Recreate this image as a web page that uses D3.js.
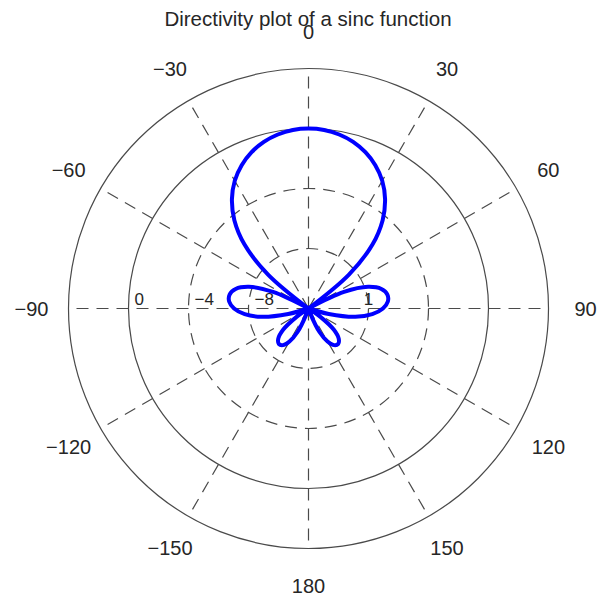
<!DOCTYPE html>
<html>
<head>
<meta charset="utf-8">
<script src="https://cdn.jsdelivr.net/npm/d3@7"></script>
<style>
  html, body { margin: 0; padding: 0; background: #fff; }
  svg { display: block; }
  text { font-family: "Liberation Sans", Arial, Helvetica, sans-serif; fill: #262626; }
</style>
</head>
<body>
<svg id="chart" width="607" height="596"></svg>
<script>
// Sample angles (degrees, 0 = up, clockwise positive)
const angles = [
  -180, -175, -170, -165, -160, -155, -150, -145, -140, -135, -130, -125,
  -120, -115, -110, -105, -100, -95, -90, -85, -80, -75, -70, -65,
  -60, -55, -50, -45, -40, -35, -30, -25, -20, -15, -10, -5,
  0, 5, 10, 15, 20, 25, 30, 35, 40, 45, 50, 55,
  60, 65, 70, 75, 80, 85, 90, 95, 100, 105, 110, 115,
  120, 125, 130, 135, 140, 145, 150, 155, 160, 165, 170, 175
];
// Directivity in dB at each sample angle (floored at the -12 dB centre)
const gainDb = [
  -12, -12, -12, -12, -11.60, -10.27, -9.46, -9.02, -8.92, -9.15, -9.79, -11.03,
  -12, -12, -12, -10.60, -8.83, -7.73, -7.04, -6.69, -6.66, -6.97, -7.77, -9.39,
  -12, -12, -8.48, -5.97, -4.31, -3.10, -2.17, -1.46, -0.91, -0.50, -0.22, -0.05,
  0, -0.05, -0.22, -0.50, -0.91, -1.46, -2.17, -3.10, -4.31, -5.97, -8.48, -12,
  -12, -9.39, -7.77, -6.97, -6.66, -6.69, -7.04, -7.73, -8.83, -10.60, -12, -12,
  -12, -11.03, -9.79, -9.15, -8.92, -9.02, -9.46, -10.27, -11.60, -12, -12, -12
];
// Grid rings and spokes
const ringDb = [-8, -4, 0, 4];
const ringSolid = [false, false, true, true];
const radialLabels = ["0", "\u22124", "\u22128"];
const radialLabelDb = [0, -4, -8];
const spokeAngles = [0, 30, 60, 90, 120, 150, 180, -150, -120, -90, -60, -30];
const spokeLabels = ["0", "30", "60", "90", "120", "150", "180",
                     "\u2212150", "\u2212120", "\u221290", "\u221260", "\u221230"];

const svg = d3.select("#chart");
const cx = 308.5, cy = 308.5;
const r = d3.scaleLinear().domain([-12, 4]).range([0, 240]);
const rad = d3.scaleLinear().domain([0, 360]).range([0, 2 * Math.PI]);

const g = svg.append("g").attr("transform", `translate(${cx},${cy})`);

// spokes
g.selectAll("line.spoke").data(spokeAngles).join("line")
  .attr("class", "spoke")
  .attr("x1", 0).attr("y1", 0)
  .attr("x2", d => r(4) * Math.sin(rad(d)))
  .attr("y2", d => -r(4) * Math.cos(rad(d)))
  .attr("stroke", "#4a4a4a").attr("stroke-width", 1.2)
  .attr("stroke-dasharray", "12,8");

// rings
g.selectAll("circle.ring").data(ringDb).join("circle")
  .attr("class", "ring")
  .attr("r", d => r(d))
  .attr("fill", "none")
  .attr("stroke", "#4a4a4a").attr("stroke-width", 1.2)
  .attr("stroke-dasharray", (d, i) => ringSolid[i] ? null : "12,8");

// radial tick labels along the left horizontal spoke
g.selectAll("text.rlab").data(radialLabels).join("text")
  .attr("class", "rlab")
  .attr("x", (d, i) => -r(radialLabelDb[i]) + 6)
  .attr("y", -4)
  .attr("font-size", 17)
  .text(d => d);
g.append("text")
  .attr("x", r(-8)).attr("y", -4)
  .attr("text-anchor", "middle")
  .attr("font-size", 17)
  .text("1");

// angle labels
g.selectAll("text.alab").data(spokeAngles).join("text")
  .attr("class", "alab")
  .attr("x", d => 277 * Math.sin(rad(d)))
  .attr("y", d => -277 * Math.cos(rad(d)))
  .attr("text-anchor", "middle")
  .attr("dominant-baseline", "central")
  .attr("font-size", 20)
  .text((d, i) => spokeLabels[i]);

// directivity curve
const pts = angles.map((a, i) => [rad(a), r(gainDb[i])]);
const line = d3.lineRadial()
  .angle(d => d[0])
  .radius(d => d[1])
  .curve(d3.curveCatmullRomClosed.alpha(0.5));
g.append("path")
  .attr("d", line(pts))
  .attr("fill", "none")
  .attr("stroke", "#0000ff")
  .attr("stroke-width", 4)
  .attr("stroke-linejoin", "round");

// title
svg.append("text")
  .attr("x", 308).attr("y", 26)
  .attr("text-anchor", "middle")
  .attr("font-size", 20.5)
  .text("Directivity plot of a sinc function");
</script>
</body>
</html>
